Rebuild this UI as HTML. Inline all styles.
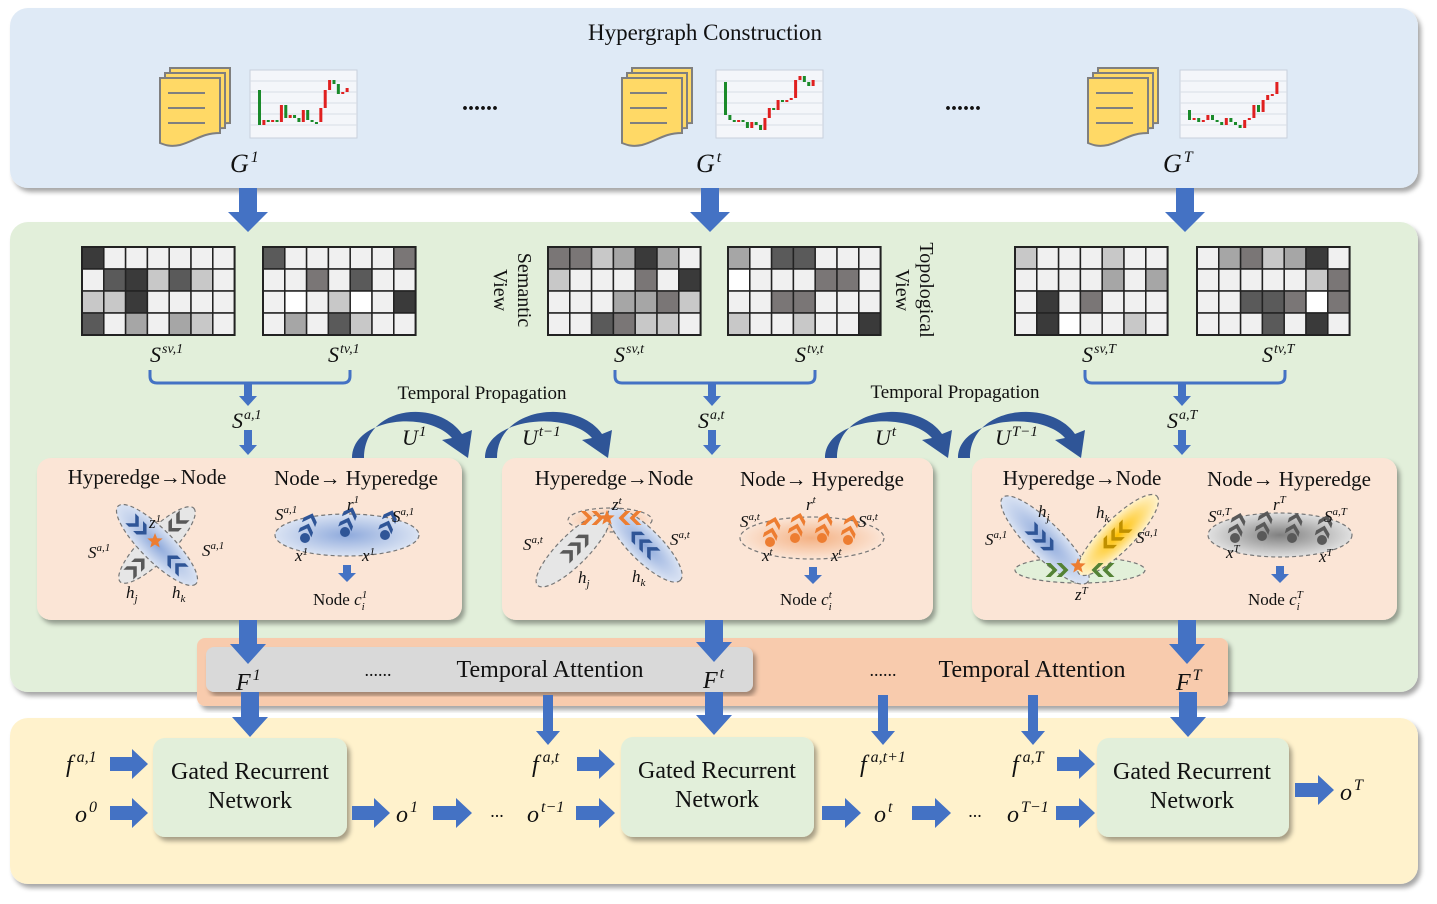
<!DOCTYPE html>
<html><head><meta charset="utf-8"><style>
html,body{margin:0;padding:0;background:#fff;}
svg{display:block;}
text{font-family:"Liberation Serif",serif;fill:#111;}
.m{font-style:italic;}
.t{font-size:21px;}
</style></head><body>
<svg id="s" width="1437" height="904" viewBox="0 0 1437 904" xmlns="http://www.w3.org/2000/svg">
<defs>
<filter id="sh" x="-5%" y="-5%" width="110%" height="115%"><feDropShadow dx="3" dy="4" stdDeviation="2.5" flood-color="#000" flood-opacity="0.35"/></filter>
<radialGradient id="gb"><stop offset="0" stop-color="#8faadc"/><stop offset="1" stop-color="#dae3f3"/></radialGradient>
<radialGradient id="go"><stop offset="0" stop-color="#f4b183"/><stop offset="1" stop-color="#fbe5d6"/></radialGradient>
<radialGradient id="gg"><stop offset="0" stop-color="#808080"/><stop offset="1" stop-color="#e0e0e0"/></radialGradient>
<radialGradient id="gy"><stop offset="0" stop-color="#ffc000"/><stop offset="1" stop-color="#fff2cc"/></radialGradient>
</defs>
<rect x="10" y="8" width="1408" height="180" rx="18" fill="#dfeaf6" filter="url(#sh)"/>
<rect x="10" y="222" width="1408" height="470" rx="18" fill="#e2efda" filter="url(#sh)"/>
<rect x="10" y="718" width="1408" height="166" rx="18" fill="#fff2cc" filter="url(#sh)"/>
<text x="705" y="40" text-anchor="middle" font-size="23">Hypergraph Construction</text>
<g id="top"></g>
<text x="480" y="110" text-anchor="middle" font-size="24" font-weight="bold">......</text>
<text x="963" y="110" text-anchor="middle" font-size="24" font-weight="bold">......</text>
<text x="230" y="172" class="m" font-size="26">G<tspan dy="-10" dx="2" font-size="16">1</tspan></text>
<text x="696" y="172" class="m" font-size="26">G<tspan dy="-10" dx="2" font-size="16">t</tspan></text>
<text x="1163" y="172" class="m" font-size="26">G<tspan dy="-10" dx="2" font-size="16">T</tspan></text>
<g id="grids"></g>
<g class="m" font-size="22">
<text x="150" y="362">S<tspan dy="-9" dx="1" font-size="14">sv,1</tspan></text>
<text x="328" y="362">S<tspan dy="-9" dx="1" font-size="14">tv,1</tspan></text>
<text x="614" y="362">S<tspan dy="-9" dx="1" font-size="14">sv,t</tspan></text>
<text x="795" y="362">S<tspan dy="-9" dx="1" font-size="14">tv,t</tspan></text>
<text x="1082" y="362">S<tspan dy="-9" dx="1" font-size="14">sv,T</tspan></text>
<text x="1262" y="362">S<tspan dy="-9" dx="1" font-size="14">tv,T</tspan></text>
<text x="232" y="428">S<tspan dy="-9" dx="1" font-size="14">a,1</tspan></text>
<text x="698" y="428">S<tspan dy="-9" dx="1" font-size="14">a,t</tspan></text>
<text x="1167" y="428">S<tspan dy="-9" dx="1" font-size="14">a,T</tspan></text>
</g>
<text transform="translate(518,290) rotate(90)" text-anchor="middle" font-size="20">Semantic</text>
<text transform="translate(494,290) rotate(90)" text-anchor="middle" font-size="20">View</text>
<text transform="translate(920,290) rotate(90)" text-anchor="middle" font-size="20">Topological</text>
<text transform="translate(896,290) rotate(90)" text-anchor="middle" font-size="20">View</text>
<text x="482" y="399" text-anchor="middle" font-size="19">Temporal Propagation</text>
<text x="955" y="398" text-anchor="middle" font-size="19">Temporal Propagation</text>
<g fill="none" stroke="#4472c4" stroke-width="3">
<path d="M150 370 v6 q0 7 7 7 h186 q7 0 7 -7 v-6"/>
<path d="M615 370 v6 q0 7 7 7 h186 q7 0 7 -7 v-6"/>
<path d="M1085 370 v6 q0 7 7 7 h186 q7 0 7 -7 v-6"/>
</g>
<rect x="37" y="458" width="425" height="162" rx="14" fill="#fbe5d6" filter="url(#sh)"/>
<rect x="502" y="458" width="431" height="162" rx="14" fill="#fbe5d6" filter="url(#sh)"/>
<rect x="972" y="458" width="425" height="162" rx="14" fill="#fbe5d6" filter="url(#sh)"/>
<g id="curves"></g>
<g class="m" font-size="22">
<text x="402" y="445">U<tspan dy="-9" dx="1" font-size="15">1</tspan></text>
<text x="522" y="445">U<tspan dy="-9" dx="1" font-size="15">t−1</tspan></text>
<text x="875" y="445">U<tspan dy="-9" dx="1" font-size="15">t</tspan></text>
<text x="995" y="445">U<tspan dy="-9" dx="1" font-size="15">T−1</tspan></text>
</g>
<g id="hyp"></g>
<g class="t">
<text x="147" y="484" text-anchor="middle">Hyperedge→Node</text>
<text x="356" y="485" text-anchor="middle">Node→ Hyperedge</text>
<text x="614" y="485" text-anchor="middle">Hyperedge→Node</text>
<text x="822" y="486" text-anchor="middle">Node→ Hyperedge</text>
<text x="1082" y="485" text-anchor="middle">Hyperedge→Node</text>
<text x="1289" y="486" text-anchor="middle">Node→ Hyperedge</text>
</g>
<g font-size="17">
<text x="313" y="605">Node <tspan class="m">c<tspan dy="5" font-size="11">i</tspan><tspan dy="-12" dx="-3" font-size="11">1</tspan></tspan></text>
<text x="780" y="605">Node <tspan class="m">c<tspan dy="5" font-size="11">i</tspan><tspan dy="-12" dx="-3" font-size="11">t</tspan></tspan></text>
<text x="1248" y="605">Node <tspan class="m">c<tspan dy="5" font-size="11">i</tspan><tspan dy="-12" dx="-3" font-size="11">T</tspan></tspan></text>
</g>
<g class="m" font-size="17">
<text x="149" y="528">z<tspan dy="-6" font-size="11">1</tspan></text>
<text x="88" y="558">S<tspan dy="-7" font-size="11">a,1</tspan></text>
<text x="202" y="556">S<tspan dy="-7" font-size="11">a,1</tspan></text>
<text x="126" y="598">h<tspan dy="4" font-size="11">j</tspan></text>
<text x="172" y="598">h<tspan dy="4" font-size="11">k</tspan></text>
<text x="275" y="520">S<tspan dy="-7" font-size="11">a,1</tspan></text>
<text x="347" y="510">r<tspan dy="-7" font-size="11">1</tspan></text>
<text x="392" y="522">S<tspan dy="-7" font-size="11">a,1</tspan></text>
<text x="295" y="561">x<tspan dy="-6" font-size="11">1</tspan></text>
<text x="362" y="561">x<tspan dy="-6" font-size="11">1</tspan></text>
<text x="612" y="510">z<tspan dy="-6" font-size="11">t</tspan></text>
<text x="523" y="550">S<tspan dy="-7" font-size="11">a,t</tspan></text>
<text x="670" y="545">S<tspan dy="-7" font-size="11">a,t</tspan></text>
<text x="578" y="583">h<tspan dy="4" font-size="11">j</tspan></text>
<text x="632" y="582">h<tspan dy="4" font-size="11">k</tspan></text>
<text x="740" y="527">S<tspan dy="-7" font-size="11">a,t</tspan></text>
<text x="806" y="510">r<tspan dy="-7" font-size="11">t</tspan></text>
<text x="858" y="527">S<tspan dy="-7" font-size="11">a,t</tspan></text>
<text x="762" y="561">x<tspan dy="-6" font-size="11">t</tspan></text>
<text x="831" y="561">x<tspan dy="-6" font-size="11">t</tspan></text>
<text x="1038" y="517">h<tspan dy="4" font-size="11">j</tspan></text>
<text x="1096" y="518">h<tspan dy="4" font-size="11">k</tspan></text>
<text x="985" y="545">S<tspan dy="-7" font-size="11">a,1</tspan></text>
<text x="1136" y="543">S<tspan dy="-7" font-size="11">a,1</tspan></text>
<text x="1075" y="600">z<tspan dy="-6" font-size="11">T</tspan></text>
<text x="1208" y="522">S<tspan dy="-7" font-size="11">a,T</tspan></text>
<text x="1273" y="510">r<tspan dy="-7" font-size="11">T</tspan></text>
<text x="1324" y="522">S<tspan dy="-7" font-size="11">a,T</tspan></text>
<text x="1226" y="558">x<tspan dy="-6" font-size="11">T</tspan></text>
<text x="1319" y="562">x<tspan dy="-6" font-size="11">T</tspan></text>
</g>
<rect x="197" y="638" width="1031" height="68" rx="8" fill="#f8cbad" filter="url(#sh)"/>
<rect x="206" y="647" width="547" height="45" rx="8" fill="#d9d9d9" filter="url(#sh)"/>
<text x="378" y="676" text-anchor="middle" font-size="18">......</text>
<text x="550" y="677" text-anchor="middle" font-size="24">Temporal Attention</text>
<text x="883" y="676" text-anchor="middle" font-size="18">......</text>
<text x="1032" y="677" text-anchor="middle" font-size="24">Temporal Attention</text>
<g class="m" font-size="24">
<text x="236" y="690">F<tspan dy="-10" dx="2" font-size="16">1</tspan></text>
<text x="703" y="688">F<tspan dy="-10" dx="2" font-size="16">t</tspan></text>
<text x="1176" y="690">F<tspan dy="-10" dx="2" font-size="16">T</tspan></text>
</g>
<rect x="153" y="738" width="194" height="99" rx="12" fill="#e2efda" filter="url(#sh)"/>
<rect x="621" y="737" width="193" height="100" rx="12" fill="#e2efda" filter="url(#sh)"/>
<rect x="1097" y="738" width="192" height="99" rx="12" fill="#e2efda" filter="url(#sh)"/>
<g font-size="24" text-anchor="middle">
<text x="250" y="779">Gated Recurrent</text><text x="250" y="808">Network</text>
<text x="717" y="778">Gated Recurrent</text><text x="717" y="807">Network</text>
<text x="1192" y="779">Gated Recurrent</text><text x="1192" y="808">Network</text>
</g>
<g class="m" font-size="24">
<text x="66" y="772">f<tspan dy="-10" dx="4" font-size="16">a,1</tspan></text>
<text x="75" y="822">o<tspan dy="-10" dx="2" font-size="16">0</tspan></text>
<text x="396" y="822">o<tspan dy="-10" dx="2" font-size="16">1</tspan></text>
<text x="527" y="822">o<tspan dy="-10" dx="2" font-size="16">t−1</tspan></text>
<text x="532" y="772">f<tspan dy="-10" dx="4" font-size="16">a,t</tspan></text>
<text x="860" y="772">f<tspan dy="-10" dx="4" font-size="16">a,t+1</tspan></text>
<text x="874" y="822">o<tspan dy="-10" dx="2" font-size="16">t</tspan></text>
<text x="1007" y="822">o<tspan dy="-10" dx="2" font-size="16">T−1</tspan></text>
<text x="1012" y="772">f<tspan dy="-10" dx="4" font-size="16">a,T</tspan></text>
<text x="1340" y="800">o<tspan dy="-10" dx="2" font-size="16">T</tspan></text>
</g>
<text x="497" y="817" text-anchor="middle" font-size="18">...</text>
<text x="975" y="817" text-anchor="middle" font-size="18">...</text>
<g id="arrows" fill="#4472c4"></g>
</svg>
<script>
const NS="http://www.w3.org/2000/svg";
function el(p,t,a){const e=document.createElementNS(NS,t);for(const k in a)e.setAttribute(k,a[k]);document.getElementById(p).appendChild(e);return e;}
function down(x,y1,y2,w=16,hw=34,hh=18){el("arrows","path",{d:`M${x-w/2} ${y1}H${x+w/2}V${y2-hh}H${x+hw/2}L${x} ${y2}L${x-hw/2} ${y2-hh}H${x-w/2}Z`});}
function right(y,x1,x2,w=14,hw=30,hh=16){el("arrows","path",{d:`M${x1} ${y-w/2}V${y+w/2}H${x2-hh}V${y+hw/2}L${x2} ${y}L${x2-hh} ${y-hw/2}V${y-w/2}Z`});}
[248,710,1185].forEach(x=>down(x,188,232,18,40,20));
[248,712,1182].forEach(x=>{down(x,384,406,8,18,10);down(x,430,455,8,18,10);});
[[248,620,664],[714,620,662],[1187,620,664]].forEach(a=>down(a[0],a[1],a[2],18,36,20));
[[250,692,737],[714,692,735],[1188,692,737]].forEach(a=>down(a[0],a[1],a[2],18,36,20));
[[548,695,745],[883,695,745],[1033,695,745]].forEach(a=>down(a[0],a[1],a[2],10,24,14));
[[110,148,764],[110,148,813],[352,390,813],[433,472,813],[576,615,813],[577,615,764],[822,861,813],[912,951,813],[1056,1095,813],[1057,1095,764],[1295,1334,790]].forEach(a=>right(a[2],a[0],a[1],14,30,16));
[[347,565,582],[813,567,584],[1280,566,583]].forEach(a=>down(a[0],a[1],a[2],8,18,9));
function curve(x1,x2,yb){
 el("curves","path",{d:`M${x1} ${yb} C${x1} ${yb-40},${x2-35} ${yb-48},${x2-10} ${yb-20} L${x2-20} ${yb-18} L${x2+6} ${yb} L${x2+10} ${yb-28} L${x2} ${yb-24} C${x2-25} ${yb-60},${x1+12} ${yb-52},${x1+12} ${yb} Z`,fill:"#2f5597"});}
curve(352,462,458);curve(485,602,458);curve(825,942,458);curve(958,1075,458);
function doc(x,y){const g="top";
 [[10,0],[5,5],[0,10]].forEach(o=>el(g,"path",{d:`M${x+o[0]} ${y+o[1]}h${60}v${55}c-18 0-25 8-40 12c-10 2-15 0-20-2Z`,fill:"#ffd966",stroke:"#7f7f7f","stroke-width":2}));
 [25,40,55].forEach(d=>el(g,"line",{x1:x+8,x2:x+45,y1:y+d,y2:y+d,stroke:"#7f7f7f","stroke-width":2}));}
function chart(x,y,vals){el("top","rect",{x:x,y:y,width:107,height:68,fill:"#f4f6fa",stroke:"#c8d0dc"});
 for(let i=1;i<6;i++)el("top","line",{x1:x,x2:x+107,y1:y+i*11,y2:y+i*11,stroke:"#d8dde6"});
 const st=92/(vals.length-1);
 for(let i=0;i<vals.length-1;i++){const v=vals[i],nv=vals[i+1];
 el("top","rect",{x:x+8+i*st,y:Math.min(v,nv)+y,width:3,height:Math.max(2,Math.abs(nv-v)),fill:nv<v?"#e02020":"#1a8a2a"});}}
chart(250,70,[20,55,50,52,50,52,35,48,45,48,52,40,50,52,52,38,20,10,14,24,22,18]);
chart(716,70,[12,45,50,52,50,52,58,52,55,60,48,38,40,30,32,30,28,10,6,12,16,10]);
chart(1180,70,[40,50,48,52,50,45,50,52,55,48,52,55,58,50,48,35,42,30,25,24,12]);
doc(160,68);doc(622,68);doc(1088,68);
function grid(x,y,seed){const cw=21.8,ch=22;let r=seed;
 for(let i=0;i<4;i++)for(let j=0;j<7;j++){r=(r*9301+49297)%233280;const q=r/233280;let c="#f0f0f0";
  if(q>0.93)c="#3a3a3a";else if(q>0.86)c="#5a5a5a";else if(q>0.8)c="#7a7676";else if(q>0.74)c="#a6a6a6";else if(q>0.68)c="#c8c8c8";else if(q<0.03)c="#ffffff";
  el("grids","rect",{x:x+j*cw,y:y+i*ch,width:cw,height:ch,fill:c,stroke:"#222","stroke-width":1.5});}
 el("grids","rect",{x:x,y:y,width:cw*7,height:ch*4,fill:"none",stroke:"#222","stroke-width":2});}
[[82,1],[263,5],[548,9],[728,13],[1015,17],[1197,23]].forEach(a=>grid(a[0],247,a[1]*7919));
function ell(cx,cy,rx,ry,rot,fill){el("hyp","ellipse",{cx,cy,rx,ry,transform:`rotate(${rot} ${cx} ${cy})`,fill,stroke:"#777","stroke-width":1.2,"stroke-dasharray":"4 3"});}
function chev(cx,cy,rot,col,n=3){for(let i=0;i<n;i++){const x=cx+(i-(n-1)/2)*11;el("hyp","path",{d:`M${x-4} ${cy-7}l7 7l-7 7h5l7-7l-7-7z`,fill:col,transform:`rotate(${rot} ${cx} ${cy})`});}}
function star(x,y){let p="";for(let i=0;i<10;i++){const a=Math.PI/5*i-Math.PI/2,r=i%2?3.5:8;p+=(i?"L":"M")+(x+r*Math.cos(a)).toFixed(1)+" "+(y+r*Math.sin(a)).toFixed(1);}el("hyp","path",{d:p+"Z",fill:"#ed7d31"});}
ell(157,545,52,15,-45,"#e6e6e6");ell(157,545,55,16,45,"url(#gb)");
chev(137,525,45,"#2f5597",2);chev(177,565,225,"#2f5597",2);chev(135,568,-45,"#595959",2);chev(178,522,135,"#595959",2);star(155,541);
ell(347,535,72,21,0,"url(#gb)");
[[305,538],[345,532],[385,535]].forEach(p=>{el("hyp","circle",{cx:p[0],cy:p[1],r:5,fill:"#2f5597"});chev(p[0]+3,p[1]-12,-70,"#2f5597",2);});
ell(610,520,42,12,0,"url(#go)");ell(573,550,50,15,-45,"#e6e6e6");ell(645,545,50,16,45,"url(#gb)");
chev(590,518,0,"#ed7d31",2);chev(632,518,180,"#ed7d31",2);chev(575,548,-45,"#595959",3);chev(645,545,225,"#2f5597",3);star(607,518);
ell(812,538,72,21,0,"url(#go)");
[[770,542],[795,538],[822,538],[848,540]].forEach(p=>{el("hyp","circle",{cx:p[0],cy:p[1],r:5,fill:"#ed7d31"});chev(p[0]+2,p[1]-12,-75,"#ed7d31",2);});
ell(1080,570,65,13,0,"#e2f0d9");ell(1045,540,60,17,45,"url(#gb)");ell(1118,535,55,16,-45,"url(#gy)");
chev(1040,537,45,"#2f5597",3);chev(1117,535,135,"#bf9000",3);chev(1055,570,0,"#548235",2);chev(1105,570,180,"#548235",2);star(1078,566);
ell(1280,535,72,22,0,"url(#gg)");
[[1235,538],[1262,536],[1292,538],[1322,540]].forEach(p=>{el("hyp","circle",{cx:p[0],cy:p[1],r:5,fill:"#595959"});chev(p[0]+2,p[1]-12,-75,"#595959",2);});
</script>
</body></html>
